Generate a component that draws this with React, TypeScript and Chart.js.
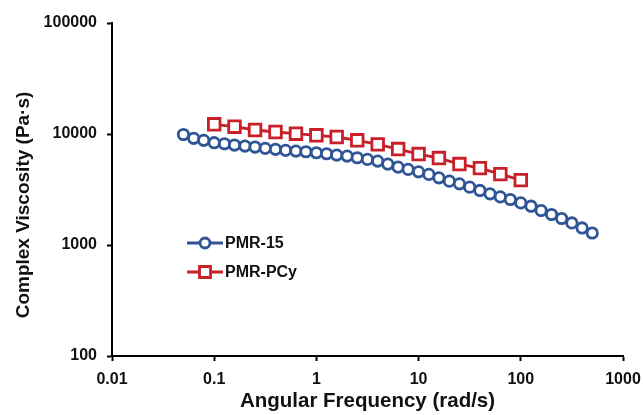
import React, { useEffect, useRef } from "react";
import { Chart, registerables } from "chart.js";

Chart.register(...registerables);

// Angular frequency (rad/s)
const freqPMR15 = [
  0.05, 0.063, 0.079, 0.1, 0.126, 0.158, 0.2, 0.251, 0.316, 0.398,
  0.5, 0.63, 0.79, 1, 1.26, 1.58, 2, 2.51, 3.16, 3.98,
  5, 6.3, 7.9, 10, 12.6, 15.8, 20, 25.1, 31.6, 39.8,
  50, 63, 79, 100, 126, 158, 200, 251, 316, 398, 500,
];
// Complex viscosity (Pa·s)
const etaPMR15 = [
  9900, 9144, 8772, 8345, 8172, 7954, 7791, 7631, 7427, 7274,
  7125, 7021, 6920, 6778, 6638, 6462, 6329, 6107, 5907, 5703,
  5358, 5034, 4798, 4564, 4325, 4030, 3762, 3556, 3320, 3100,
  2888, 2713, 2570, 2395, 2236, 2045, 1882, 1732, 1580, 1424, 1283,
];

const freqPMRPCy = [
  0.1, 0.158, 0.251, 0.398, 0.631, 1, 1.58, 2.51, 3.98, 6.31,
  10, 15.8, 25.1, 39.8, 63.1, 100,
];
const etaPMRPCy = [
  12235, 11638, 10868, 10425, 10062, 9734, 9395, 8772, 8070, 7320,
  6600, 6070, 5360, 4930, 4350, 3840,
];

const xTicks = [0.01, 0.1, 1, 10, 100, 1000];
const yTicks = [100, 1000, 10000, 100000];

const seriesNames = ["PMR-15", "PMR-PCy"];
const xTitle = "Angular Frequency (rad/s)";
const yTitle = "Complex Viscosity (Pa·s)";
const BLUE = "#2F5597";
const RED = "#C8202A";
const FONT = "'Liberation Sans', Arial, sans-serif";

const overlayPlugin = {
  id: "overlay",
  afterDraw(chart: any) {
    const ctx = chart.ctx;
    ctx.save();
    // y-axis title
    ctx.translate(24, 205);
    ctx.rotate(-Math.PI / 2);
    ctx.fillStyle = "#111";
    ctx.font = `bold 19px ${FONT}`;
    ctx.textAlign = "center";
    ctx.textBaseline = "middle";
    ctx.fillText(yTitle, 0, 0);
    ctx.restore();

    ctx.save();
    const items = [
      { name: seriesNames[0], color: BLUE, style: "circle", y: 243 },
      { name: seriesNames[1], color: RED, style: "rect", y: 272 },
    ];
    for (const it of items) {
      ctx.strokeStyle = it.color;
      ctx.lineWidth = 2.8;
      ctx.beginPath();
      ctx.moveTo(187, it.y);
      ctx.lineTo(223, it.y);
      ctx.stroke();
      ctx.fillStyle = "#fff";
      ctx.beginPath();
      if (it.style === "circle") {
        ctx.arc(205, it.y, 5, 0, Math.PI * 2);
      } else {
        ctx.rect(199.5, it.y - 5.5, 11, 11);
      }
      ctx.fill();
      ctx.stroke();
      ctx.fillStyle = "#111";
      ctx.font = `bold 16px ${FONT}`;
      ctx.textBaseline = "middle";
      ctx.textAlign = "left";
      ctx.fillText(it.name, 225, it.y + 1);
    }
    ctx.restore();
  },
};

export default function App() {
  const ref = useRef<HTMLCanvasElement | null>(null);

  useEffect(() => {
    document.body.style.margin = "0";
    if (!ref.current) return;
    const chart = new Chart(ref.current, {
      type: "line",
      data: {
        datasets: [
          {
            label: seriesNames[0],
            data: freqPMR15.map((x, i) => ({ x, y: etaPMR15[i] })),
            borderColor: BLUE,
            backgroundColor: "#fff",
            borderWidth: 2.8,
            pointStyle: "circle",
            pointRadius: 5.2,
            pointBorderWidth: 2.8,
            pointBackgroundColor: "#fff",
            pointBorderColor: BLUE,
          },
          {
            label: seriesNames[1],
            data: freqPMRPCy.map((x, i) => ({ x, y: etaPMRPCy[i] })),
            borderColor: RED,
            backgroundColor: "#fff",
            borderWidth: 2.8,
            pointStyle: "rect",
            pointRadius: 8.2,
            pointBorderWidth: 2.8,
            pointBackgroundColor: "#fff",
            pointBorderColor: RED,
          },
        ],
      },
      options: {
        animation: false,
        responsive: true,
        maintainAspectRatio: false,
        layout: { padding: { top: 23, right: 20, left: 0, bottom: 0 } },
        plugins: {
          legend: { display: false },
          tooltip: { enabled: false },
        },
        scales: {
          x: {
            type: "logarithmic",
            min: 0.01,
            max: 1000,
            afterBuildTicks: (s: any) => {
              s.ticks = xTicks.map((v) => ({ value: v }));
            },
            afterFit: (s: any) => {
              s.height = 59;
              s.paddingRight = 0;
              s.paddingLeft = 0;
            },
            ticks: {
              autoSkip: false,
              maxRotation: 0,
              padding: 9,
              color: "#111",
              font: { family: FONT, size: 16, weight: "bold" },
              callback: (v: any) => String(v),
            },
            grid: {
              drawOnChartArea: false,
              drawTicks: true,
              tickLength: 5,
              tickWidth: 2,
              tickColor: "#000",
            },
            border: { display: true, color: "#000", width: 2 },
            title: {
              display: true,
              text: xTitle,
              color: "#111",
              font: { family: FONT, size: 20.5, weight: "bold" },
              padding: { top: 0, bottom: 1 },
            },
          },
          y: {
            type: "logarithmic",
            min: 100,
            max: 100000,
            afterBuildTicks: (s: any) => {
              s.ticks = yTicks.map((v) => ({ value: v }));
            },
            afterFit: (s: any) => {
              s.width = 112;
            },
            ticks: {
              autoSkip: false,
              padding: 10,
              color: "#111",
              font: { family: FONT, size: 16, weight: "bold" },
              callback: (v: any) => String(v),
            },
            grid: {
              drawOnChartArea: false,
              drawTicks: true,
              tickLength: 5,
              tickWidth: 2,
              tickColor: "#000",
            },
            border: { display: true, color: "#000", width: 2 },
          },
        },
      },
      plugins: [overlayPlugin],
    } as any);
    return () => chart.destroy();
  }, []);

  return (
    <div style={{ position: "absolute", left: 0, top: 0, width: 643, height: 415 }}>
      <canvas ref={ref} />
    </div>
  );
}
